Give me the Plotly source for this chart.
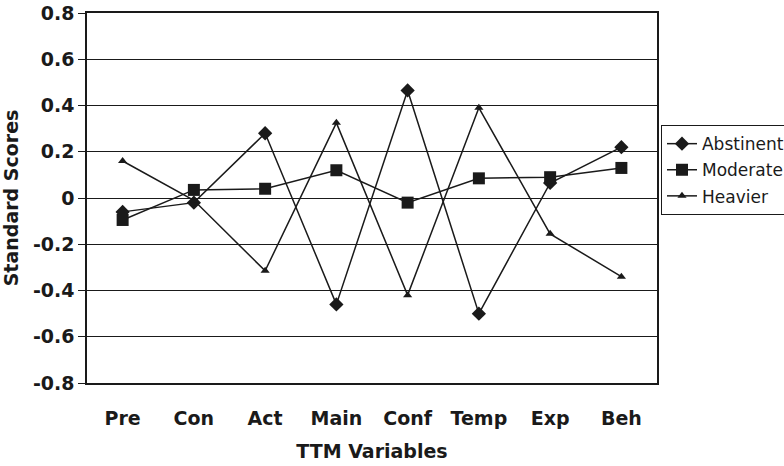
import plotly.graph_objects as go

categories = ["Pre", "Con", "Act", "Main", "Conf", "Temp", "Exp", "Beh"]
abstinent = [-0.06, -0.02, 0.28, -0.46, 0.465, -0.50, 0.065, 0.22]
moderate = [-0.095, 0.035, 0.04, 0.12, -0.02, 0.085, 0.09, 0.13]
heavier = [0.16, -0.01, -0.315, 0.325, -0.42, 0.39, -0.155, -0.34]
y_ticks = [0.8, 0.6, 0.4, 0.2, 0, -0.2, -0.4, -0.6, -0.8]
y_tick_labels = ["0.8", "0.6", "0.4", "0.2", "0", "-0.2", "-0.4", "-0.6", "-0.8"]

FONT = "DejaVu Sans, sans-serif"
INK = "#1a1a1a"
fig = go.Figure()
series = [("Abstinent", abstinent, "diamond", 11),
          ("Moderate", moderate, "square", 12),
          ("Heavier", heavier, "triangle-up", 8)]
for name, vals, sym, size in series:
    fig.add_trace(go.Scatter(
        x=categories, y=vals, name=name, mode="lines+markers",
        legendgroup=name,
        line=dict(color=INK, width=1.5),
        marker=dict(symbol=sym, size=size, color=INK),
    ))

fig.update_layout(
    width=784, height=466,
    margin=dict(l=87, r=127, t=13, b=83, autoexpand=False),
    paper_bgcolor="white", plot_bgcolor="white",
    font=dict(family=FONT, color=INK),
    showlegend=True,
    legend=dict(x=1.007, y=0.697, xanchor="left", yanchor="top",
                bordercolor=INK, borderwidth=1, bgcolor="white",
                font=dict(size=17, family=FONT), tracegroupgap=1,
                itemwidth=30),
    xaxis=dict(
        type="category", range=[-0.5, 7.5], automargin=False,
        showgrid=False, showline=True, linecolor=INK, linewidth=1.5,
        mirror=True, ticks="outside", ticklen=17, tickcolor="rgba(0,0,0,0)",
        tickfont=dict(size=19, family=FONT, weight="bold"),
        title=dict(text="<b>TTM Variables</b>", font=dict(size=19, family=FONT), standoff=17),
    ),
    yaxis=dict(
        range=[-0.8, 0.8], tickvals=y_ticks, ticktext=y_tick_labels, automargin=False,
        showgrid=True, gridcolor=INK, gridwidth=1.3,
        showline=True, linecolor=INK, linewidth=1.5, mirror=True,
        ticks="outside", ticklen=7, tickcolor=INK,
        zeroline=False,
        tickfont=dict(size=19, family=FONT, weight="bold"),
        title=dict(text="<b>Standard Scores</b>", font=dict(size=19, family=FONT), standoff=9),
    ),
)

fig.write_html("out.html", config={"displayModeBar": False},
               post_script="document.body.style.margin='0';")
